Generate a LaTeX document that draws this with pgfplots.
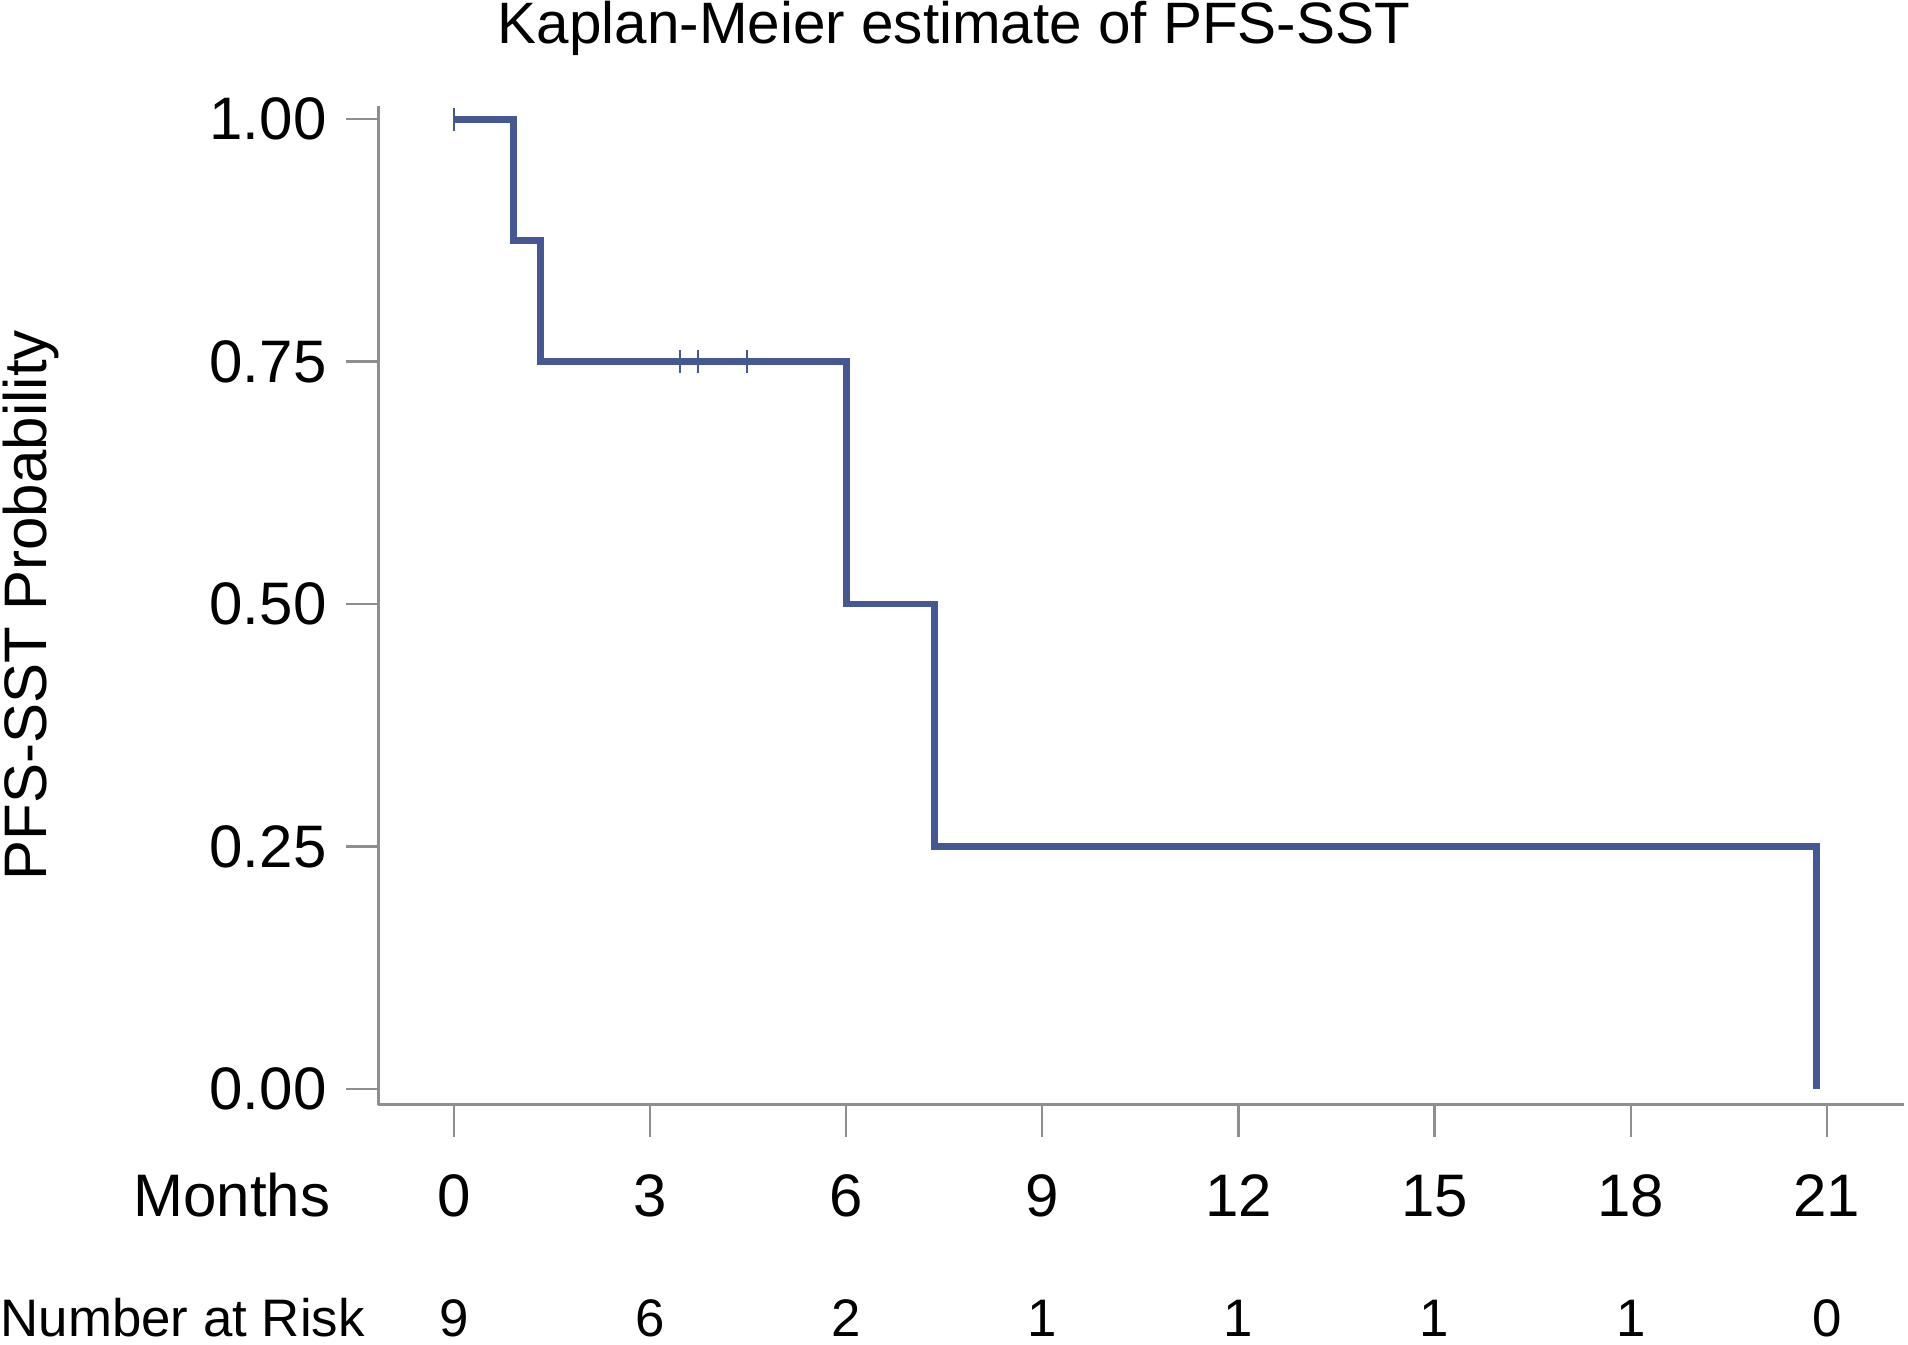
\documentclass[border=0pt]{standalone}
\usepackage{pgfplots}
\pgfplotsset{compat=1.18}
\usepackage{fontspec}
\setmainfont{Liberation Sans}
\begin{document}
\begin{tikzpicture}
\definecolor{kmblue}{RGB}{69,88,148}
\definecolor{axgray}{RGB}{140,142,145}
\begin{axis}[
  scale only axis, width=381.4pt, height=249.75pt,
  xmin=-1.153, xmax=22.18, ymin=-0.0163, ymax=1.0138,
  axis lines*=left,
  axis line style={draw=axgray, line width=0.75pt, -},
  tick align=outside, major tick length=8pt,
  tick style={draw=axgray, line width=0.6pt},
  xtick={0,3,6,9,12,15,18,21},
  ytick={0,0.25,0.5,0.75,1},
  /pgf/number format/assume math mode=true,
  ticklabel style={font=\fontsize{15}{18}\selectfont},
  yticklabel style={/pgf/number format/fixed, /pgf/number format/fixed zerofill, /pgf/number format/precision=2, anchor=east, inner sep=0pt, xshift=-4.8pt},
  xticklabel style={anchor=base, inner sep=0pt, yshift=-20pt},
  clip=false,
]
\addplot[const plot mark left, draw=kmblue, line width=1.7pt, line join=miter, mark=none] coordinates {
  (0,1) (0.908,0.875) (1.332,0.75) (6.006,0.5) (7.35,0.25) (20.84,0)
};
\addplot[only marks, mark=|, mark size=2.9pt, draw=kmblue, mark options={line width=0.5pt, draw=kmblue}] coordinates {
  (0,1) (3.457,0.75) (3.737,0.75) (4.477,0.75)
};
\coordinate (bl) at (rel axis cs:0,0);
\node[anchor=base, font=\fontsize{14.6}{17}\selectfont] at ([xshift=143.9pt, yshift=265.2pt]rel axis cs:0,0) {Kaplan-Meier estimate of PFS-SST};
\node[anchor=base, rotate=90, font=\fontsize{15}{18}\selectfont, inner sep=0pt] at ([xshift=-82.95pt]rel axis cs:0,0.5) {PFS-SST Probability};
\node[anchor=base east, inner sep=0pt, font=\fontsize{15}{18}\selectfont] at ([xshift=-11.85pt, yshift=-28pt]rel axis cs:0,0) {Months};
\node[anchor=base west, inner sep=0pt, font=\fontsize{13.2}{16}\selectfont] at ([xshift=-94.6pt, yshift=-58pt]rel axis cs:0,0) {Number at Risk};
\node[anchor=base, inner sep=0pt, font=\fontsize{13.2}{16}\selectfont] at ([yshift=-58pt]axis cs:0,-0.0163) {9};
\node[anchor=base, inner sep=0pt, font=\fontsize{13.2}{16}\selectfont] at ([yshift=-58pt]axis cs:3,-0.0163) {6};
\node[anchor=base, inner sep=0pt, font=\fontsize{13.2}{16}\selectfont] at ([yshift=-58pt]axis cs:6,-0.0163) {2};
\node[anchor=base, inner sep=0pt, font=\fontsize{13.2}{16}\selectfont] at ([yshift=-58pt]axis cs:9,-0.0163) {1};
\node[anchor=base, inner sep=0pt, font=\fontsize{13.2}{16}\selectfont] at ([yshift=-58pt]axis cs:12,-0.0163) {1};
\node[anchor=base, inner sep=0pt, font=\fontsize{13.2}{16}\selectfont] at ([yshift=-58pt]axis cs:15,-0.0163) {1};
\node[anchor=base, inner sep=0pt, font=\fontsize{13.2}{16}\selectfont] at ([yshift=-58pt]axis cs:18,-0.0163) {1};
\node[anchor=base, inner sep=0pt, font=\fontsize{13.2}{16}\selectfont] at ([yshift=-58pt]axis cs:21,-0.0163) {0};
\end{axis}
\pgfresetboundingbox
\path[use as bounding box] ([xshift=-94.6pt, yshift=-60pt]bl) rectangle ([xshift=382.4pt, yshift=276.2pt]bl);
\end{tikzpicture}
\end{document}
